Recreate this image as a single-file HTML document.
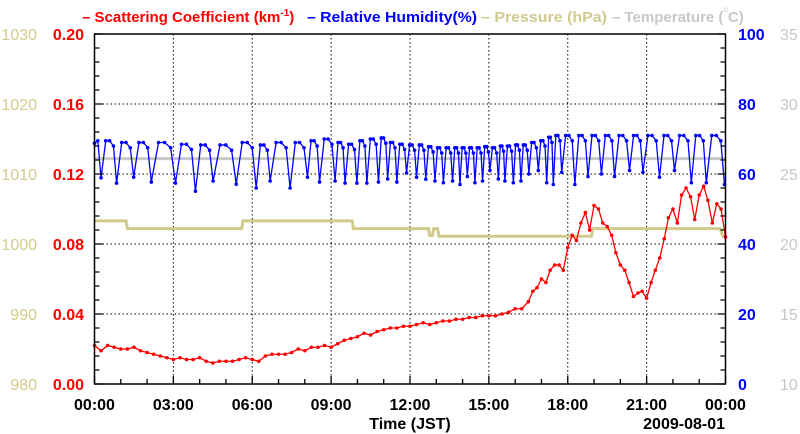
<!DOCTYPE html>
<html><head><meta charset="utf-8"><style>
body{margin:0;background:#fff;}
svg{display:block;font-family:"Liberation Sans",sans-serif;}
</style></head><body>
<svg id="chart" width="800" height="434" xmlns="http://www.w3.org/2000/svg">
<g id="title" font-size="15" font-weight="bold">
<text x="82" y="22" fill="#ff0000">– Scattering Coefficient (km<tspan dy="-6" font-size="10">-1</tspan><tspan dy="6">)</tspan></text>
<text x="307" y="22" fill="#0000ff" textLength="170" lengthAdjust="spacingAndGlyphs">– Relative Humidity(%)</text>
<text x="481" y="22" fill="#d2ca8c" textLength="126" lengthAdjust="spacingAndGlyphs">– Pressure (hPa)</text>
<text x="612" y="22" fill="#c8c8c8">– Temperature (<tspan dy="-10" font-size="8" font-weight="normal">o</tspan><tspan dy="10">C)</tspan></text>
</g>
<g id="grid"></g>
<g id="series"></g>
<g id="axes"></g>
</svg>
<script>
const scatTimes=[0,0.25,0.5,0.75,1,1.25,1.5,1.75,2,2.25,2.5,2.75,3,3.25,3.5,3.75,4,4.25,4.5,4.75,5,5.25,5.5,5.75,6,6.25,6.5,6.75,7,7.25,7.5,7.75,8,8.25,8.5,8.75,9,9.25,9.5,9.75,10,10.25,10.5,10.75,11,11.25,11.5,11.75,12,12.25,12.5,12.75,13,13.25,13.5,13.75,14,14.25,14.5,14.75,15,15.25,15.5,15.75,16,16.25,16.5,16.67,16.83,17,17.17,17.33,17.5,17.67,17.83,18,18.17,18.33,18.5,18.67,18.83,19,19.17,19.33,19.5,19.67,19.83,20,20.17,20.33,20.5,20.67,20.83,21,21.17,21.33,21.5,21.67,21.83,22,22.17,22.33,22.5,22.67,22.83,23,23.17,23.33,23.5,23.67,23.83,24];
const scatVals=[0.022,0.019,0.022,0.021,0.020,0.020,0.021,0.019,0.018,0.017,0.016,0.015,0.014,0.015,0.014,0.014,0.015,0.013,0.012,0.013,0.013,0.013,0.014,0.015,0.014,0.013,0.016,0.017,0.017,0.017,0.018,0.020,0.019,0.021,0.021,0.022,0.021,0.023,0.025,0.026,0.027,0.029,0.028,0.030,0.031,0.032,0.032,0.033,0.033,0.034,0.035,0.034,0.035,0.036,0.036,0.037,0.037,0.038,0.038,0.039,0.039,0.039,0.040,0.041,0.043,0.043,0.047,0.053,0.055,0.060,0.058,0.065,0.068,0.068,0.065,0.078,0.085,0.082,0.092,0.098,0.088,0.102,0.100,0.092,0.090,0.085,0.075,0.068,0.065,0.058,0.050,0.052,0.053,0.049,0.058,0.065,0.072,0.083,0.095,0.100,0.092,0.108,0.112,0.107,0.094,0.108,0.113,0.105,0.092,0.103,0.100,0.084];
const humDipTimes=[0.25,0.84,1.49,2.16,3.08,3.84,4.51,5.39,6.15,6.68,7.44,8.10,8.56,9.15,9.53,9.98,10.36,10.8,11.15,11.5,11.87,12.25,12.6,12.95,13.27,13.62,13.9,14.18,14.47,14.76,15.04,15.36,15.61,15.93,16.22,16.52,16.88,17.2,17.45,17.77,18.27,18.77,19.28,19.78,20.35,20.86,21.49,22.06,22.7,23.27,23.96];
const humDipVals=[58.9,57.4,59.1,57.7,57.4,55.1,58.0,57.1,56.0,58.0,56.0,59.1,57.7,58.0,57.4,57.4,57.4,57.7,58.6,57.7,60.3,59.1,58.5,58.0,57.5,58.0,57.0,59.3,57.5,58.0,61.0,58.6,58.0,57.5,58.0,60.0,61.0,57.5,57.0,60.5,57.0,59.3,60.0,59.3,61.0,60.5,59.1,61.0,57.5,57.5,57.0];
const humPeakVals=[69.5,69.5,69.0,69.0,69.0,68.5,68.3,68.3,69.0,68.3,69.0,69.0,69.5,70.0,69.0,68.5,69.5,70.0,70.3,69.0,68.5,68.3,68.3,67.8,67.5,67.5,67.5,67.5,67.5,67.5,67.8,67.5,68.0,68.0,68.3,68.3,69.0,69.5,70.5,71.0,71.0,71.0,71.0,71.0,71.0,71.0,71.0,71.0,71.0,71.0,71.0];
const humStart=68.8;
const presTimes=[0,1.2,1.25,5.6,5.65,9.8,9.85,12.7,12.75,12.85,12.9,13.05,13.1,18.9,18.95,23.8,23.9,24];
const presVals=[1003.3,1003.3,1002.2,1002.2,1003.3,1003.3,1002.2,1002.2,1001.2,1001.2,1002.2,1002.2,1001.1,1001.1,1002.2,1002.2,1001.1,1001.1];
const tempTimes=[0,24];
const tempVals=[26.1,26.1];
const xTickLabels=["00:00","03:00","06:00","09:00","12:00","15:00","18:00","21:00","00:00"];
const leftRedTicks=["0.00","0.04","0.08","0.12","0.16","0.20"];
const leftPresTicks=["980","990","1000","1010","1020","1030"];
const rightHumTicks=["0","20","40","60","80","100"];
const rightTempTicks=["10","15","20","25","30","35"];

const NS="http://www.w3.org/2000/svg";
const L=94.5,R=725.5,T=34,B=384;
const xS=h=>L+(R-L)*h/24;
const yScat=v=>B-(B-T)*v/0.2;
const yHum=v=>B-(B-T)*v/100;
const yPres=v=>B-(B-T)*(v-980)/50;
const yTemp=v=>B-(B-T)*(v-10)/25;
function mk(tag,attrs,parent){const e=document.createElementNS(NS,tag);for(const k in attrs)e.setAttribute(k,attrs[k]);parent.appendChild(e);return e;}
const grid=document.getElementById('grid'),series=document.getElementById('series'),axes=document.getElementById('axes');

for(let i=1;i<8;i++){const g=mk('line',{x1:xS(i*3),x2:xS(i*3),y1:T,y2:B,stroke:'#000','stroke-width':1,'stroke-dasharray':'1.5,2.5'},grid);

}
for(let i=1;i<5;i++){const y=B-i*70;const g=mk('line',{x1:L,x2:R,y1:y,y2:y,stroke:'#000','stroke-width':1,'stroke-dasharray':'1.5,2.5'},grid);

}

const tp=mk('polyline',{points:tempTimes.map((t,i)=>xS(t)+','+yTemp(tempVals[i])).join(' '),fill:'none',stroke:'#c8c8c8','stroke-width':3},series);


const pp=mk('polyline',{points:presTimes.map((t,i)=>xS(t)+','+yPres(presVals[i])).join(' '),fill:'none',stroke:'#d2ca8c','stroke-width':3},series);


const hp=[[0,humStart]];
let prevT=0;
humDipTimes.forEach((t,i)=>{
  if(i>0){const d=t-prevT;hp.push([prevT+d*0.3,humPeakVals[i]]);hp.push([prevT+d*0.55,humPeakVals[i]]);hp.push([prevT+d*0.8,humPeakVals[i]-1.5]);}
  else{hp.push([t*0.5,humPeakVals[0]]);}
  hp.push([t,humDipVals[i]]);prevT=t;});
const hpl=mk('polyline',{points:hp.map(p=>xS(p[0])+','+yHum(p[1])).join(' '),fill:'none',stroke:'#0000ff','stroke-width':1.3},series);


hp.forEach(p=>{const c=mk('circle',{cx:xS(p[0]),cy:yHum(p[1]),r:1.8,fill:'#0000ff'},series);

});
const spl=mk('polyline',{points:scatTimes.map((t,i)=>xS(t)+','+yScat(scatVals[i])).join(' '),fill:'none',stroke:'#ff0000','stroke-width':1.3},series);


scatTimes.forEach((t,i)=>{const c=mk('circle',{cx:xS(t),cy:yScat(scatVals[i]),r:1.8,fill:'#ff0000'},series);

});

const fr=mk('rect',{x:L,y:T,width:R-L,height:B-T,fill:'none',stroke:'#000','stroke-width':1.5},axes);


let tk='';
for(let i=0;i<=25;i++){const y=B-i*14;const len=(i%5===0)?8:5;tk+=`M${L},${y}h${len}M${R},${y}h${-len}`;}
for(let h=0;h<=24;h++){const x=xS(h);tk+=`M${x},${B}v${h%3===0?-8:-5}`;}
const tks=mk('path',{d:tk,stroke:'#000','stroke-width':1.3,fill:'none'},axes);



function txt(s,x,y,attrs,name){const e=mk('text',Object.assign({x:x,y:y},attrs),axes);e.textContent=s;

return e;}
leftRedTicks.forEach((s,i)=>txt(s,84,B-i*70+6,{'text-anchor':'end','font-size':16,'font-weight':'bold',fill:'#ff0000'},'y-left-scattering-tick'));
leftPresTicks.forEach((s,i)=>txt(s,37,B-i*70+6,{'text-anchor':'end','font-size':16,fill:'#d2ca8c'},'y-left-pressure-tick'));
rightHumTicks.forEach((s,i)=>txt(s,738,B-i*70+6,{'font-size':16,'font-weight':'bold',fill:'#0000ff'},'y-right-humidity-tick'));
rightTempTicks.forEach((s,i)=>txt(s,780,B-i*70+6,{'font-size':16,fill:'#c8c8c8'},'y-right-temperature-tick'));
xTickLabels.forEach((s,i)=>txt(s,xS(i*3),410,{'text-anchor':'middle','font-size':16,'font-weight':'bold',fill:'#000'},'x-tick-label'));
txt('Time (JST)',410,429,{'text-anchor':'middle','font-size':16,'font-weight':'bold',fill:'#000'},'x-axis-title');
txt('2009-08-01',725,429,{'text-anchor':'end','font-size':16,'font-weight':'bold',fill:'#000'},'date-label');
</script>
</body></html>
